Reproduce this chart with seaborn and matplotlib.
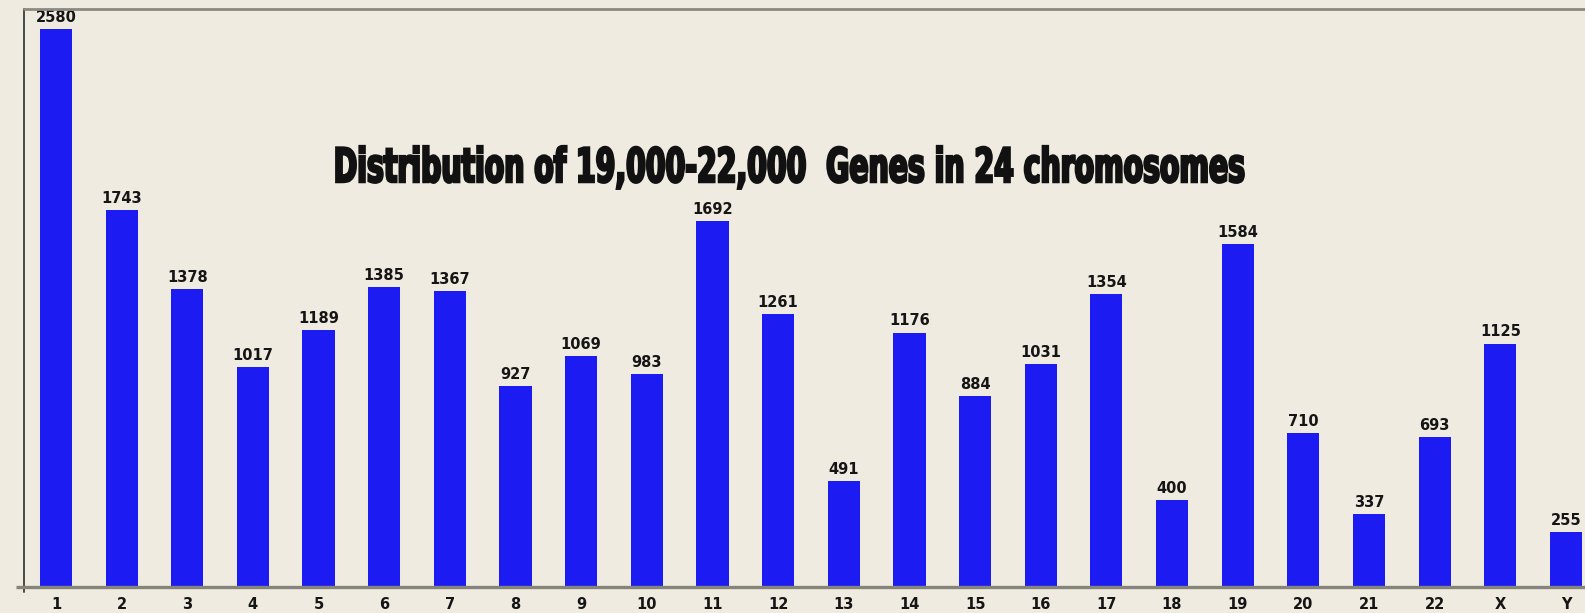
import matplotlib
matplotlib.use("Agg")
import matplotlib.pyplot as plt
import seaborn as sns
import pandas as pd
from matplotlib.patheffects import AbstractPathEffect
from matplotlib.transforms import Affine2D

# Gene counts per human chromosome
chromosomes = ["1", "2", "3", "4", "5", "6", "7", "8", "9", "10", "11", "12",
               "13", "14", "15", "16", "17", "18", "19", "20", "21", "22", "X", "Y"]
gene_counts = [2580, 1743, 1378, 1017, 1189, 1385, 1367, 927, 1069, 983, 1692, 1261,
               491, 1176, 884, 1031, 1354, 400, 1584, 710, 337, 693, 1125, 255]
title_text = "Distribution of 19,000-22,000  Genes in 24 chromosomes"

W, H, DPI = 1585, 613, 100
TITLE_X, TITLE_BASE = 790, 182   # pixel centre / baseline of the headline


class Condensed(AbstractPathEffect):
    """Narrow glyph outlines horizontally about a pivot and thicken strokes."""

    def __init__(self, pivot, sx=0.6, stroke=1.6):
        super().__init__()
        self.pivot, self.sx, self.stroke = pivot, sx, stroke

    def draw_path(self, renderer, gc, tpath, affine, rgbFace=None):
        px, py = self.pivot
        tr = affine + Affine2D().translate(-px, -py).scale(self.sx, 1.0).translate(px, py)
        gc0 = renderer.new_gc()
        gc0.copy_properties(gc)
        gc0.set_linewidth(self.stroke)
        gc0.set_foreground(rgbFace)
        gc0.set_joinstyle("miter")
        renderer.draw_path(gc0, tpath, tr, rgbFace)
        gc0.restore()


sns.set_style("white")
plt.rcParams["font.family"] = ["DejaVu Sans"]

df = pd.DataFrame({"chromosome": chromosomes, "genes": gene_counts})

BG = "#efebe1"
fig = plt.figure(figsize=(W / DPI, H / DPI), dpi=DPI, facecolor=BG)
ax = fig.add_axes([24 / W, 1 - 587 / H, 1 - 24 / W, (587 - 9) / H])
ax.set_facecolor(BG)

sns.barplot(data=df, x="chromosome", y="genes", order=chromosomes,
            color="#1c1cf2", saturation=1, width=0.49, ax=ax, zorder=2,
            edgecolor="#1c1cf2", linewidth=0)
ax.set_xlim(-0.487, 23.29)
ax.set_ylim(0, 2672)
ax.set_xlabel("")
ax.set_ylabel("")
ax.set_yticks([])

# value labels on top of each bar
ax.bar_label(ax.containers[0], labels=[str(v) for v in gene_counts], padding=3,
             fontsize=10.5, fontweight="bold", color="#151515")

# frame lines drawn by hand so they can overhang the corners
for s in ax.spines.values():
    s.set_visible(False)
ax.plot([0, 0], [-0.009, 1], transform=ax.transAxes, color="#4a4a44",
        lw=1.4, clip_on=False, zorder=5)
ax.plot([-8 / (W - 24), 1], [0, 0], transform=ax.transAxes, color="#85857c",
        lw=2.4, clip_on=False, zorder=5, solid_capstyle="butt")
ax.plot([0, 1], [1, 1], transform=ax.transAxes, color="#8a8a82",
        lw=2.0, clip_on=False, zorder=5)

ax.tick_params(axis="x", length=4, width=1.3, color="#7a7a72", pad=3,
               labelsize=10.5, labelcolor="#151515")
for lab in ax.get_xticklabels():
    lab.set_fontweight("bold")

# heavy condensed headline, centred on its pivot
fig.text(TITLE_X / W, 1 - TITLE_BASE / H, title_text, ha="center", va="baseline",
         fontsize=34, fontweight="bold", color="#111111",
         path_effects=[Condensed(pivot=(TITLE_X, H - TITLE_BASE), sx=0.6, stroke=1.8)])

fig.savefig("out.png", dpi=DPI, facecolor=BG)
